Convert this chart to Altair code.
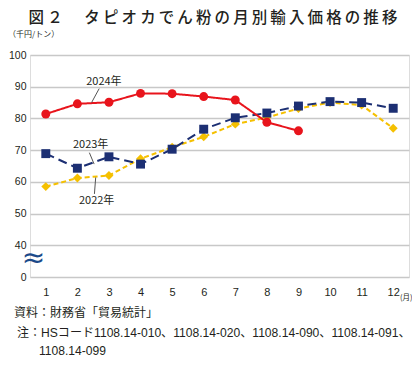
import altair as alt
import pandas as pd

months = list(range(1, 13))
v2022 = [58.5, 61.2, 62.0, 67.3, 70.9, 74.2, 78.2, 80.3, 83.1, 85.0, 84.2, 76.9]
v2023 = [68.9, 64.3, 67.9, 65.6, 70.3, 76.6, 80.2, 81.7, 83.9, 85.3, 85.0, 83.2]
v2024 = [81.4, 84.6, 85.1, 87.9, 87.8, 86.9, 85.8, 78.8, 76.1]
series = ["2022", "2023", "2024"]
colors = ["#f5c000", "#1c2f73", "#e8141c"]
point_colors = ["#f5c000", "#2e3192", "#e8141c"]
shapes = ["diamond", "square", "circle"]
dashes = [[5, 3], [9, 5], [1, 0]]

y_ticks = [30, 40, 50, 60, 70, 80, 90, 100]

# annotation labels (month, value) and leader lines
ann_text = ["2024年", "2023年", "2022年"]
ann_x = [2.84, 2.42, 2.61]
ann_y = [91.5, 71.5, 54.0]
lead_x = [2.69, 2.38, 2.58]
lead_y = [89.4, 69.2, 61.4]
lead_x2 = [2.45, 2.53, 2.54]
lead_y2 = [85.0, 65.6, 56.2]

rows = []
for s, vals in zip(series, [v2022, v2023, v2024]):
    for m, v in zip(months, vals):
        rows.append({"month": m, "value": v, "year": s})
df = pd.DataFrame(rows)

ann = pd.DataFrame({"t": ann_text, "x": ann_x, "y": ann_y,
                    "lx": lead_x, "ly": lead_y, "lx2": lead_x2, "ly2": lead_y2})

JP = "Noto Sans CJK JP"
NUM = "Liberation Sans"
MIX = "Liberation Sans, Noto Sans CJK JP"
TXT = "#231f20"

xs = alt.Scale(domain=[0.5, 12.5], nice=False, zero=False)
ys = alt.Scale(domain=[30, 100], nice=False, zero=False)

xaxis = alt.Axis(values=months, grid=False, ticks=False, domain=False,
                 labelOverlap=False, labelFlush=False,
                 labelFont=NUM, labelFontSize=11, labelColor=TXT,
                 labelPadding=9, title=None)
yaxis = alt.Axis(values=y_ticks, grid=True, gridColor="#c8c8c8", gridWidth=1.5,
                 ticks=False, domain=False, labelOverlap=False, labelFlush=False,
                 labelExpr="datum.value == 30 ? '0' : datum.label",
                 labelFont=NUM, labelFontSize=10.5, labelColor=TXT,
                 labelPadding=4, title=None)

lines = alt.Chart(df).mark_line(strokeWidth=2).encode(
    x=alt.X("month:Q", scale=xs, axis=xaxis),
    y=alt.Y("value:Q", scale=ys, axis=yaxis),
    color=alt.Color("year:N", scale=alt.Scale(domain=series, range=colors), legend=None),
    strokeDash=alt.StrokeDash("year:N", scale=alt.Scale(domain=series, range=dashes), legend=None),
    detail="year:N",
)

points = alt.Chart(df).mark_point(filled=True, opacity=1, size=80).encode(
    x=alt.X("month:Q", scale=xs, axis=xaxis),
    y=alt.Y("value:Q", scale=ys, axis=yaxis),
    color=alt.Color("year:N", scale=alt.Scale(domain=series, range=point_colors), legend=None),
    shape=alt.Shape("year:N", scale=alt.Scale(domain=series, range=shapes), legend=None),
)

labels = alt.Chart(ann).mark_text(font=JP, fontSize=11, color=TXT).encode(
    x=alt.X("x:Q", scale=xs, axis=xaxis), y=alt.Y("y:Q", scale=ys, axis=yaxis), text="t:N")
leaders = alt.Chart(ann).mark_rule(color="#555555", strokeWidth=1).encode(
    x=alt.X("lx:Q", scale=xs, axis=xaxis), y=alt.Y("ly:Q", scale=ys, axis=yaxis),
    x2="lx2:Q", y2="ly2:Q")

brk = alt.Chart(pd.DataFrame({"x": [0.61], "y": [35.8], "t": ["≈"]})).mark_text(
    font="DejaVu Sans", fontSize=28, fontWeight="normal", color="#1c4a8a", clip=False).encode(
    x=alt.X("x:Q", scale=xs, axis=xaxis), y=alt.Y("y:Q", scale=ys, axis=yaxis), text="t:N")

def txt(s, x, y, size=12, align="left", font=JP, weight="normal"):
    return alt.Chart(pd.DataFrame({"t": [s]})).mark_text(
        font=font, fontSize=size, align=align, baseline="middle",
        color=TXT, fontWeight=weight, clip=False).encode(
        x=alt.value(x), y=alt.value(y), text="t:N")

title_text = "\u2009".join("図２　タピオカでん粉の月別輸入価格の推移")

extras = [
    txt(title_text, 183, -37, size=15.5, align="center", weight=500),
    txt("（千円/トン）", -22, -20, size=8),
    txt("(月)", 370, 243, size=7.5),
    txt("資料：財務省「貿易統計」", -16, 258, size=12),
    txt("注：", -13, 278, size=12),
    txt("HSコード1108.14-010、1108.14-020、1108.14-090、1108.14-091、", 11, 278, size=12.1, font=MIX),
    txt("1108.14-099", 9, 296, size=12.1, font=MIX),
]

chart = alt.layer(lines, points, leaders, labels, brk, *extras).properties(
    width=379, height=222,
    autosize=alt.AutoSizeParams(type="none"),
    padding={"left": 22, "top": 47, "right": 3, "bottom": 81},
).configure_view(stroke="#9a9a9a", strokeWidth=1.5).configure_axis(
    labelOverlap=False).configure(background="white")

chart.save("out.html", embed_options={"renderer": "svg", "actions": False})
